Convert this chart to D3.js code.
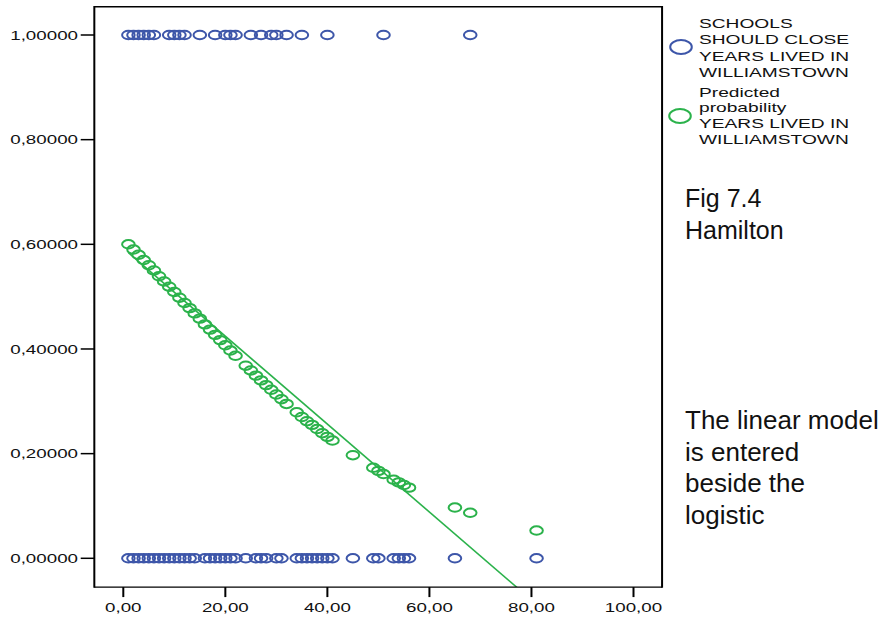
<!DOCTYPE html>
<html>
<head>
<meta charset="utf-8">
<script src="https://cdn.jsdelivr.net/npm/d3@7"></script>
<style>
  body { margin: 0; background: #fff; }
  svg { display: block; font-family: "Liberation Sans", Arial, sans-serif; }
</style>
</head>
<body>
<div id="chart"></div>
<script>
// years lived in Williamstown, respondents saying schools should close (=1)
const closeYears = [1, 2, 3, 4, 5, 6, 9, 10, 11, 12, 15, 18, 20, 21, 22, 25, 27, 29, 30, 32, 35, 40, 51, 68];
// respondents saying schools should not close (=0)
const openYears = [1, 2, 3, 4, 5, 6, 7, 8, 9, 10, 11, 12, 13, 14, 16, 17, 18, 19, 20, 21, 22, 24, 26, 27, 28,
                   30, 31, 34, 35, 36, 37, 38, 39, 40, 41, 45, 49, 50, 53, 54, 55, 56, 65, 81];
// logistic predicted probability, read per distinct year
const predYears = [1, 2, 3, 4, 5, 6, 7, 8, 9, 10, 11, 12, 13, 14, 15, 16, 17, 18, 19, 20, 21, 22,
                   24, 25, 26, 27, 28, 29, 30, 31, 32, 34, 35, 36, 37, 38, 39, 40, 41,
                   45, 49, 50, 51, 53, 54, 55, 56, 65, 68, 81];
const predProb = [0.600, 0.590, 0.580, 0.570, 0.560, 0.550, 0.539, 0.529, 0.519, 0.509, 0.498, 0.488,
                  0.478, 0.468, 0.458, 0.447, 0.437, 0.427, 0.417, 0.407, 0.397, 0.387,
                  0.368, 0.359, 0.349, 0.340, 0.331, 0.322, 0.313, 0.304, 0.295, 0.279, 0.270,
                  0.262, 0.255, 0.247, 0.239, 0.232, 0.225,
                  0.197, 0.173, 0.167, 0.161, 0.150, 0.145, 0.140, 0.135, 0.097, 0.087, 0.053];
// linear model (fit line) end points
const linearX = [1, 81];
const linearY = [0.584, -0.088];

const xTicks = [0, 20, 40, 60, 80, 100];
const yTicks = [0, 0.2, 0.4, 0.6, 0.8, 1];
const legendBlue = ["SCHOOLS", "SHOULD CLOSE", "YEARS LIVED IN", "WILLIAMSTOWN"];
const legendGreen = ["Predicted", "probability", "YEARS LIVED IN", "WILLIAMSTOWN"];
const noteTop = ["Fig 7.4", "Hamilton"];
const noteBottom = ["The linear model", "is entered", "beside the", "logistic"];

const width = 884, height = 619;
const SX = 1.41; // the original chart is stretched sideways
const blue = "#3d56a9", green = "#2bb24b";

const x = d3.scaleLinear().domain([0, 100]).range([123.3, 633.5]);
const y = d3.scaleLinear().domain([0, 1]).range([558.3, 35]);
const frame = {left: x(-5.68), right: x(105.6), top: y(1.054), bottom: y(-0.055)};

const svg = d3.select("#chart").append("svg")
              .attr("width", width)
              .attr("height", height);

const stretched = (g, px, py, str, anchor, size) =>
    g.append("text")
     .attr("transform", `translate(${px},${py}) scale(${SX},1)`)
     .attr("text-anchor", anchor)
     .attr("font-size", size)
     .attr("fill", "#111")
     .text(str);

svg.append("clipPath").attr("id", "plotclip")
   .append("rect")
   .attr("x", frame.left).attr("y", frame.top)
   .attr("width", frame.right - frame.left)
   .attr("height", frame.bottom - frame.top);

// axes
const axes = svg.append("g").attr("stroke", "#000");
axes.selectAll("line.yt").data(yTicks).join("line")
    .attr("x1", frame.left - 13.6).attr("x2", frame.left)
    .attr("y1", d => y(d)).attr("y2", d => y(d))
    .attr("stroke-width", 1.5);
axes.selectAll("line.xt").data(xTicks).join("line")
    .attr("x1", d => x(d)).attr("x2", d => x(d))
    .attr("y1", frame.bottom).attr("y2", frame.bottom + 10)
    .attr("stroke-width", 2);

const fmtY = d => d3.format(".5f")(d).replace(".", ",");
const fmtX = d => d3.format(".2f")(d).replace(".", ",");
const labels = svg.append("g");
yTicks.forEach(t => stretched(labels, 78, y(t) + 4.8, fmtY(t), "end", 13.3));
xTicks.forEach(t => stretched(labels, x(t), 612, fmtX(t), "middle", 13.3));

// linear fit line
svg.append("path")
   .attr("clip-path", "url(#plotclip)")
   .attr("fill", "none")
   .attr("stroke", green)
   .attr("stroke-width", 1.6)
   .attr("d", d3.line().x(d => x(d[0])).y(d => y(d[1]))(d3.zip(linearX, linearY)));

// markers
const marker = (sel, color) => sel
    .attr("rx", 6.3).attr("ry", 4.2)
    .attr("fill", "none")
    .attr("stroke", color)
    .attr("stroke-width", 2);

svg.append("g").selectAll("ellipse")
   .data(closeYears).join("ellipse")
   .attr("cx", d => x(d)).attr("cy", y(1))
   .call(marker, blue);
svg.append("g").selectAll("ellipse")
   .data(openYears).join("ellipse")
   .attr("cx", d => x(d)).attr("cy", y(0))
   .call(marker, blue);
svg.append("g").selectAll("ellipse")
   .data(d3.zip(predYears, predProb)).join("ellipse")
   .attr("cx", d => x(d[0])).attr("cy", d => y(d[1]))
   .call(marker, green);

// frame
const fr = svg.append("g").attr("stroke", "#000");
fr.append("line").attr("x1", frame.left).attr("x2", frame.right)
  .attr("y1", frame.top).attr("y2", frame.top).attr("stroke-width", 1.4);
fr.append("line").attr("x1", frame.left).attr("x2", frame.right)
  .attr("y1", frame.bottom).attr("y2", frame.bottom).attr("stroke-width", 1.4);
fr.append("line").attr("x1", frame.left).attr("x2", frame.left)
  .attr("y1", frame.top - 0.7).attr("y2", frame.bottom + 0.7).attr("stroke-width", 2);
fr.append("line").attr("x1", frame.right).attr("x2", frame.right)
  .attr("y1", frame.top - 0.7).attr("y2", frame.bottom + 0.7).attr("stroke-width", 2);

// legend
const legend = svg.append("g");
legend.append("ellipse").attr("cx", 681).attr("cy", 47).attr("rx", 10.8).attr("ry", 6.9)
      .attr("fill", "none").attr("stroke", blue).attr("stroke-width", 2);
legend.append("ellipse").attr("cx", 680).attr("cy", 116).attr("rx", 10.8).attr("ry", 6.9)
      .attr("fill", "none").attr("stroke", green).attr("stroke-width", 2);
legendBlue.forEach((s, i) => stretched(legend, 699, 28 + i * 16.4, s, "start", 13.6));
[97, 112, 128, 144].forEach((py, i) => stretched(legend, 699, py, legendGreen[i], "start", 13.6));

// notes
const notes = svg.append("g").attr("fill", "#111");
noteTop.forEach((s, i) => notes.append("text").attr("x", 685).attr("y", 207 + i * 32)
                               .attr("font-size", 25).text(s));
noteBottom.forEach((s, i) => notes.append("text").attr("x", 685).attr("y", 429 + i * 31.5)
                                  .attr("font-size", 26).text(s));
</script>
</body>
</html>
